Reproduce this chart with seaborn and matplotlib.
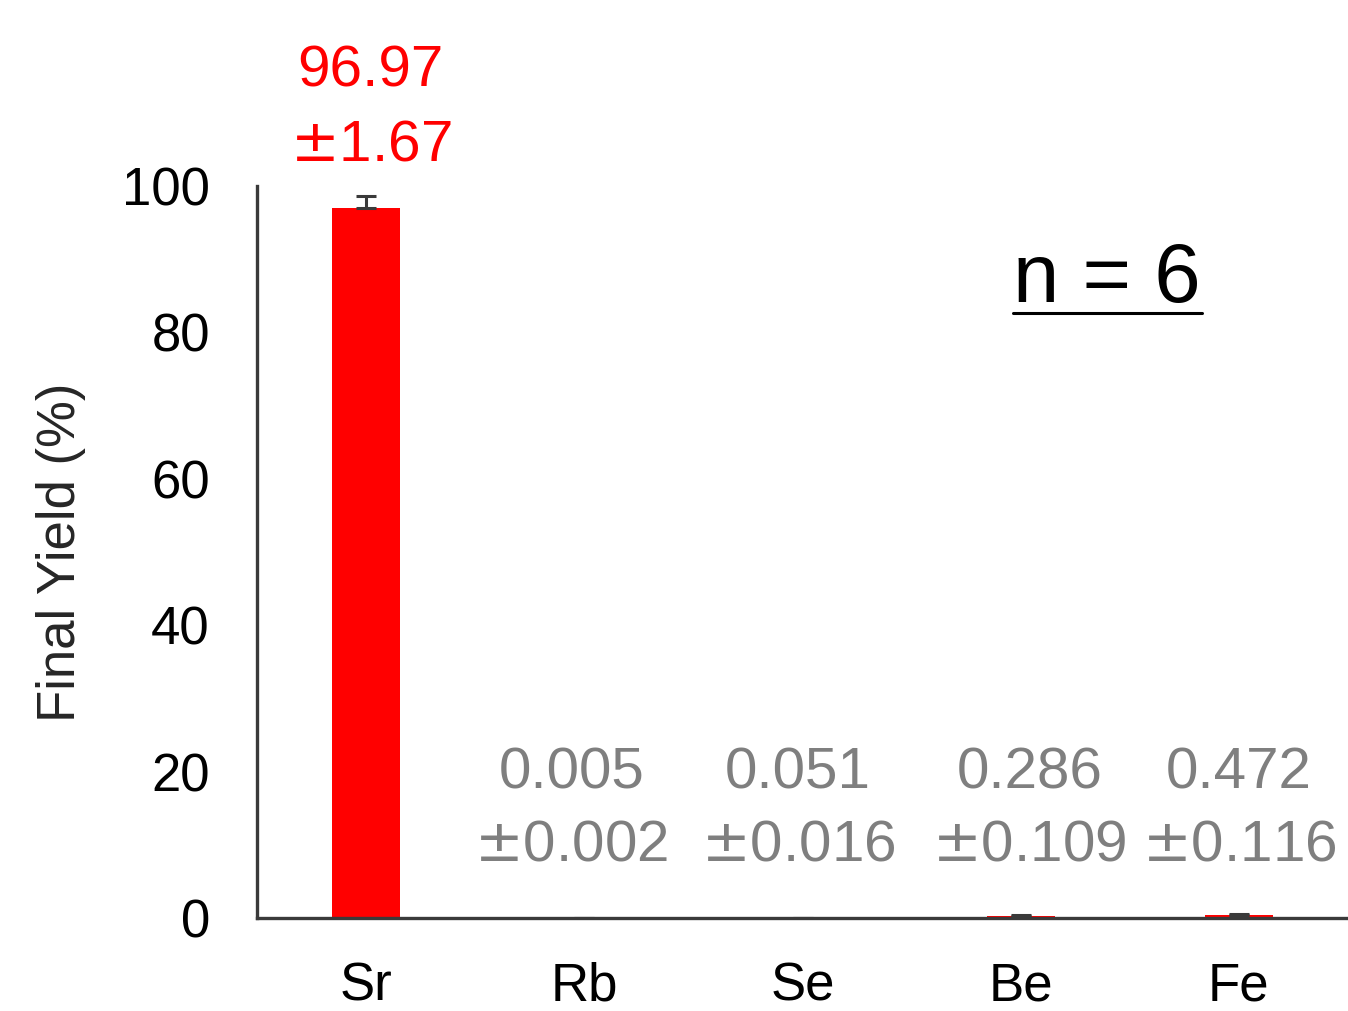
import matplotlib
matplotlib.use("Agg")
import matplotlib.pyplot as plt
import seaborn as sns
import pandas as pd
from matplotlib.lines import Line2D

elements = ["Sr", "Rb", "Se", "Be", "Fe"]
yields = [96.97, 0.005, 0.051, 0.286, 0.472]
errors = [1.67, 0.002, 0.016, 0.109, 0.116]
mean_labels = ["96.97", "0.005", "0.051", "0.286", "0.472"]
err_labels = ["1.67", "0.002", "0.016", "0.109", "0.116"]
yticks = [0, 20, 40, 60, 80, 100]

sns.set_theme(style="white")
plt.rcParams["font.family"] = ["Liberation Sans", "DejaVu Sans"]
plt.rcParams["mathtext.fontset"] = "dejavusans"

df = pd.DataFrame({"Element": elements, "Yield": yields})

fig = plt.figure(figsize=(13.48, 10.11), dpi=100)
ax = fig.add_axes([257/1348, 1-918/1011, 1-257/1348, (918-186)/1011])

sns.barplot(data=df, x="Element", y="Yield", color="#ff0000", width=0.31,
            saturation=1, ax=ax, errorbar=None, edgecolor="none")
xs = list(range(len(elements)))
ax.errorbar(xs, yields, yerr=[[0]*len(errors), errors], fmt="none",
            ecolor="#3a3a3a", elinewidth=2.2, capsize=7, capthick=2.2, zorder=3)

ax.set_xlim(-0.5, 4.5)
ax.set_ylim(0, 100)
ax.set_yticks(yticks)
ax.set_yticklabels([str(t) for t in yticks])
ax.tick_params(axis="both", length=0, labelsize=38, colors="black")
ax.tick_params(axis="y", pad=34)
ax.tick_params(axis="x", pad=31)
ax.set_xlabel("")
ax.set_ylabel("Final Yield (%)", fontsize=38, labelpad=26)

for side in ["top", "right"]:
    ax.spines[side].set_visible(False)
for side in ["left", "bottom"]:
    ax.spines[side].set_color("#3a3a3a")
    ax.spines[side].set_linewidth(2.4)

# annotations
ax.text(0.02, 115.6, mean_labels[0], color="#ff0000", fontsize=42,
        ha="center", va="center")
ax.text(0.02, 105.6, r"$\pm$" + err_labels[0], color="#ff0000", fontsize=42,
        ha="center", va="center")
label_x = [None, 0.94, 1.98, 3.04, 4.0]
for i in range(1, len(elements)):
    ax.text(label_x[i], 19.8, mean_labels[i], color="#7f7f7f", fontsize=42,
            ha="center", va="center")
    ax.text(label_x[i], 9.9, r"$\pm$" + err_labels[i], color="#7f7f7f",
            fontsize=42, ha="center", va="center")

ax.text(0.779, 0.871, "n = 6", transform=ax.transAxes, fontsize=60,
        ha="center", va="center", color="black")
fig.add_artist(Line2D([1013/1348, 1202/1348], [1-313/1011, 1-313/1011],
                      color="black", linewidth=2.2, transform=fig.transFigure))

fig.savefig("out.png", dpi=100)
